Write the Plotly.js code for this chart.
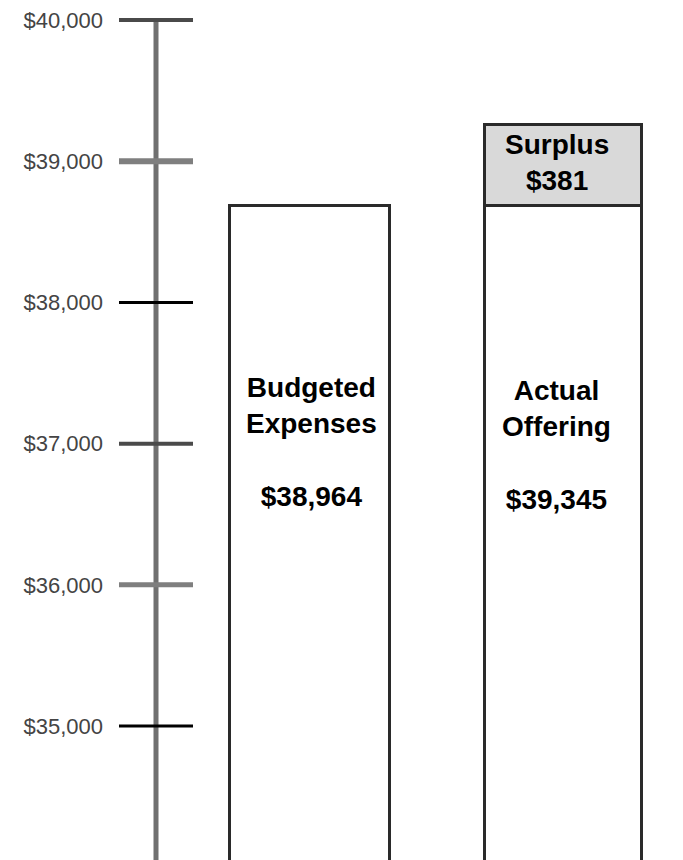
<!DOCTYPE html>
<html>
<head>
<meta charset="utf-8">
<script src="https://cdn.plot.ly/plotly-3.0.1.min.js"></script>
<style>html,body{margin:0;padding:0;background:#fff;}#chart{width:683px;height:860px;}</style>
</head>
<body>
<div id="chart"></div>
<script>
// ---- data ----
var categories = ['Budgeted Expenses', 'Actual Offering'];
var labelLines = [['Budgeted', 'Expenses'], ['Actual', 'Offering']];
var labelAmounts = ['$38,964', '$39,345'];
var barHeights = [38690, 38690];          // visual bar tops
var surplusCategory = ['Actual Offering'];
var surplusHeight = [570];                 // visual height of surplus box
var surplusLabel = ['Surplus', '$381'];
var tickVals = [35000, 36000, 37000, 38000, 39000, 40000];
var tickText = ['$35,000', '$36,000', '$37,000', '$38,000', '$39,000', '$40,000'];

// ---- styles ----
var yRange = [34051, 40142];
var tickStyles = {
  35000: {c: '#000000', w: 3},
  36000: {c: '#7f7f7f', w: 5},
  37000: {c: '#4a4a4a', w: 4},
  38000: {c: '#000000', w: 3},
  39000: {c: '#7f7f7f', w: 6},
  40000: {c: '#4a4a4a', w: 4}
};
var fontFam = '"Liberation Sans", Arial, sans-serif';

var traces = [
  {
    type: 'bar', x: categories, y: barHeights, width: [0.636, 0.62],
    marker: {color: '#ffffff', line: {color: '#2a2a2a', width: 3}},
    hoverinfo: 'skip'
  },
  {
    type: 'bar', x: surplusCategory, y: surplusHeight, width: [0.62],
    marker: {color: '#d9d9d9', line: {color: '#2a2a2a', width: 3}},
    hoverinfo: 'skip'
  }
];

var shapes = [{
  type: 'line', xref: 'paper', yref: 'y', x0: 0, x1: 0,
  y0: yRange[0], y1: tickVals[tickVals.length - 1],
  line: {color: '#707070', width: 5}, layer: 'above'
}];
tickVals.forEach(function (v) {
  var s = tickStyles[v];
  shapes.push({
    type: 'line', xref: 'paper', yref: 'y', xsizemode: 'pixel', xanchor: 0,
    x0: -37, x1: 37, y0: v, y1: v, line: {color: s.c, width: s.w}, layer: 'above'
  });
});

var annotations = [];
var textShift = [2, -6];
categories.forEach(function (c, i) {
  annotations.push({
    x: c, y: 37010, xref: 'x', yref: 'y', xshift: textShift[i], yshift: (i === 1 ? -3 : 0),
    text: '<b>' + labelLines[i].join('<br>') + '<br> <br>' + labelAmounts[i] + '</b>',
    showarrow: false, font: {family: fontFam, size: 28, color: '#000'}, align: 'center'
  });
});
annotations.push({
  x: surplusCategory[0], y: barHeights[1] + surplusHeight[0] / 2, xref: 'x', yref: 'y',
  xshift: -6, yshift: 2,
  text: '<b>' + surplusLabel.join('<br>') + '</b>',
  showarrow: false, font: {family: fontFam, size: 28, color: '#000'}, align: 'center'
});

var layout = {
  width: 683, height: 860,
  margin: {l: 156, r: 0, t: 0, b: 0, pad: 0},
  paper_bgcolor: '#ffffff', plot_bgcolor: '#ffffff',
  showlegend: false, barmode: 'stack',
  xaxis: {
    type: 'category', range: [-0.6067, 1.476], showgrid: false, zeroline: false,
    showline: false, showticklabels: false, ticks: '', fixedrange: true
  },
  yaxis: {
    range: yRange, tickvals: tickVals, ticktext: tickText, showgrid: false,
    zeroline: false, showline: false, ticks: '', ticklabelstandoff: 52,
    tickfont: {family: fontFam, size: 22, color: '#444'}, fixedrange: true
  },
  shapes: shapes,
  annotations: annotations
};

Plotly.newPlot('chart', traces, layout, {displayModeBar: false, staticPlot: true});
</script>
</body>
</html>
